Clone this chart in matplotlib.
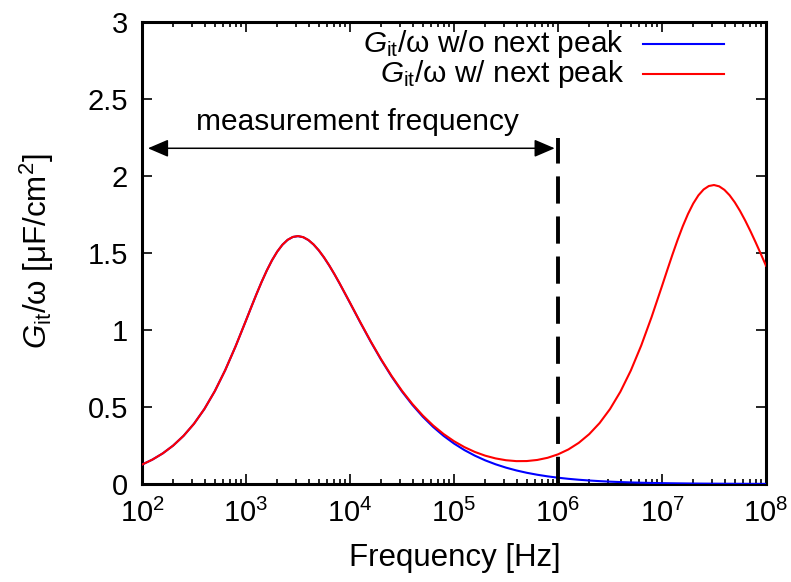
import numpy as np
import matplotlib
matplotlib.use("Agg")
import matplotlib.pyplot as plt
from matplotlib.ticker import LogLocator, MultipleLocator, NullFormatter

plt.rcParams['font.family'] = ['Liberation Sans', 'DejaVu Sans']
plt.rcParams['mathtext.fontset'] = 'custom'
plt.rcParams['mathtext.rm'] = 'Liberation Sans'
plt.rcParams['mathtext.it'] = 'Liberation Sans:italic'
plt.rcParams['mathtext.sf'] = 'Liberation Sans'

# log10 of frequency [Hz]
freq_exp = [2.0, 2.1, 2.2, 2.3, 2.4, 2.5, 2.6, 2.7, 2.8, 2.9,
            3.0, 3.05, 3.1, 3.15, 3.2, 3.25, 3.3, 3.35, 3.4, 3.45,
            3.5, 3.55, 3.6, 3.65, 3.7, 3.75, 3.8, 3.85, 3.9,
            4.0, 4.1, 4.2, 4.3, 4.4, 4.5, 4.6, 4.7, 4.8, 4.9,
            5.0, 5.1, 5.2, 5.3, 5.4, 5.5, 5.6, 5.7, 5.8, 5.9,
            6.0, 6.1, 6.2, 6.3, 6.4, 6.5, 6.6, 6.7, 6.8, 6.9,
            7.0, 7.05, 7.1, 7.15, 7.2, 7.25, 7.3, 7.35, 7.4, 7.45,
            7.5, 7.55, 7.6, 7.65, 7.7, 7.75, 7.8, 7.85, 7.9, 7.95, 8.0]

# G_it/omega without next peak [uF/cm^2]
g_without = [0.1259, 0.1584, 0.1990, 0.2498, 0.3131, 0.3913, 0.4872, 0.6028, 0.7391, 0.8942,
             1.0622, 1.1477, 1.2317, 1.3120, 1.3863, 1.4526, 1.5087, 1.5533, 1.5852, 1.6039,
             1.6095, 1.6025, 1.5838, 1.5547, 1.5166, 1.4708, 1.4189, 1.3622, 1.3020,
             1.1757, 1.0475, 0.9230, 0.8058, 0.6979, 0.6003, 0.5135, 0.4369, 0.3702, 0.3124,
             0.2628, 0.2203, 0.1842, 0.1536, 0.1279, 0.1062, 0.0880, 0.0728, 0.0602, 0.0496,
             0.0409, 0.0336, 0.0276, 0.0227, 0.0186, 0.0152, 0.0125, 0.0102, 0.0083, 0.0068,
             0.0055, 0.0050, 0.0045, 0.0041, 0.0037, 0.0033, 0.0030, 0.0027, 0.0024, 0.0022,
             0.0020, 0.0018, 0.0016, 0.0015, 0.0013, 0.0012, 0.0011, 0.0010, 0.0009, 0.0008, 0.0007]

# G_it/omega with next peak [uF/cm^2]
g_with = [0.1259, 0.1584, 0.1990, 0.2498, 0.3131, 0.3913, 0.4872, 0.6028, 0.7391, 0.8942,
          1.0622, 1.1477, 1.2317, 1.3120, 1.3863, 1.4526, 1.5088, 1.5535, 1.5855, 1.6043,
          1.6100, 1.6031, 1.5845, 1.5555, 1.5174, 1.4717, 1.4199, 1.3633, 1.3032,
          1.1772, 1.0494, 0.9254, 0.8088, 0.7017, 0.6051, 0.5196, 0.4445, 0.3798, 0.3245,
          0.2780, 0.2395, 0.2083, 0.1839, 0.1661, 0.1543, 0.1485, 0.1490, 0.1561, 0.1702,
          0.1926, 0.2244, 0.2674, 0.3237, 0.3958, 0.4867, 0.5995, 0.7366, 0.8989, 1.0844,
          1.2855, 1.3880, 1.4887, 1.5850, 1.6742, 1.7536, 1.8210, 1.8744, 1.9125, 1.9349,
          1.9414, 1.9328, 1.9101, 1.8750, 1.8288, 1.7735, 1.7108, 1.6424, 1.5698, 1.4944, 1.4174]

meas_freq = 1e6
meas_line_top = 2.25
arrow_left = 1.14e2
arrow_right = 9.3e5
arrow_y = 2.18
label_text = "measurement frequency"
label_x = 1.17e4
label_y = 2.35

freq = np.power(10.0, freq_exp)

fig = plt.figure(figsize=(7.91, 5.82), dpi=100)
ax = fig.add_axes([142/791, 1-484/582, 624/791, 462/582])

ax.plot(freq, g_without, color='#0000ff', lw=1.5, zorder=3)
ax.plot(freq, g_with, color='#ff0000', lw=1.5, zorder=4)

ax.plot([meas_freq, meas_freq], [0, meas_line_top], color='black', lw=2.8,
        dashes=(7.0, 3.3), zorder=5)
ax.annotate('', xy=(arrow_right, arrow_y), xytext=(arrow_left, arrow_y),
            arrowprops=dict(arrowstyle='<|-|>,head_length=0.7,head_width=0.3',
                            color='black', lw=1.1,
                            mutation_scale=18, shrinkA=0, shrinkB=0))
ax.text(label_x, label_y, label_text, ha='center', va='center', fontsize=21.5)

ax.set_xscale('log')
ax.set_xlim(1e2, 1e8)
ax.set_ylim(0, 3)
ax.xaxis.set_major_locator(LogLocator(base=10, numticks=20))
ax.xaxis.set_minor_locator(LogLocator(base=10, subs=np.arange(2, 10), numticks=100))
ax.xaxis.set_minor_formatter(NullFormatter())
ax.yaxis.set_major_locator(MultipleLocator(0.5))
ax.yaxis.set_major_formatter(plt.FuncFormatter(lambda v, p: '%g' % v))

ax.tick_params(which='both', direction='in', top=True, right=True, width=1.2)
ax.tick_params(which='major', length=7, labelsize=21)
ax.tick_params(which='minor', length=3.5)
ax.tick_params(axis='x', which='major', pad=11)
ax.tick_params(axis='y', which='major', pad=10)
for s in ax.spines.values():
    s.set_linewidth(2.2)

fig.text(455/791, 1-558/582, 'Frequency [Hz]', ha='center', va='center', fontsize=22.5)
fig.text(37/791, 1-251/582, r'$G_{\mathrm{it}}$/ω [μF/cm$^2$]', ha='center', va='center',
         rotation=90, fontsize=22.5)

# key (gnuplot-style: text right-aligned, sample on the right)
key_entries = [(r'$G_{\mathrm{it}}$/ω w/o next peak', '#0000ff'),
               (r'$G_{\mathrm{it}}$/ω w/ next peak', '#ff0000')]
key_y = [0.9524, 0.8874]
for (lab, col), yy in zip(key_entries, key_y):
    ax.text(0.7724, yy, lab, transform=ax.transAxes, ha='right', va='center', fontsize=21.5)
    ax.plot([0.803, 0.933], [yy, yy], transform=ax.transAxes, color=col, lw=1.5)

fig.savefig('out.png', dpi=100)
